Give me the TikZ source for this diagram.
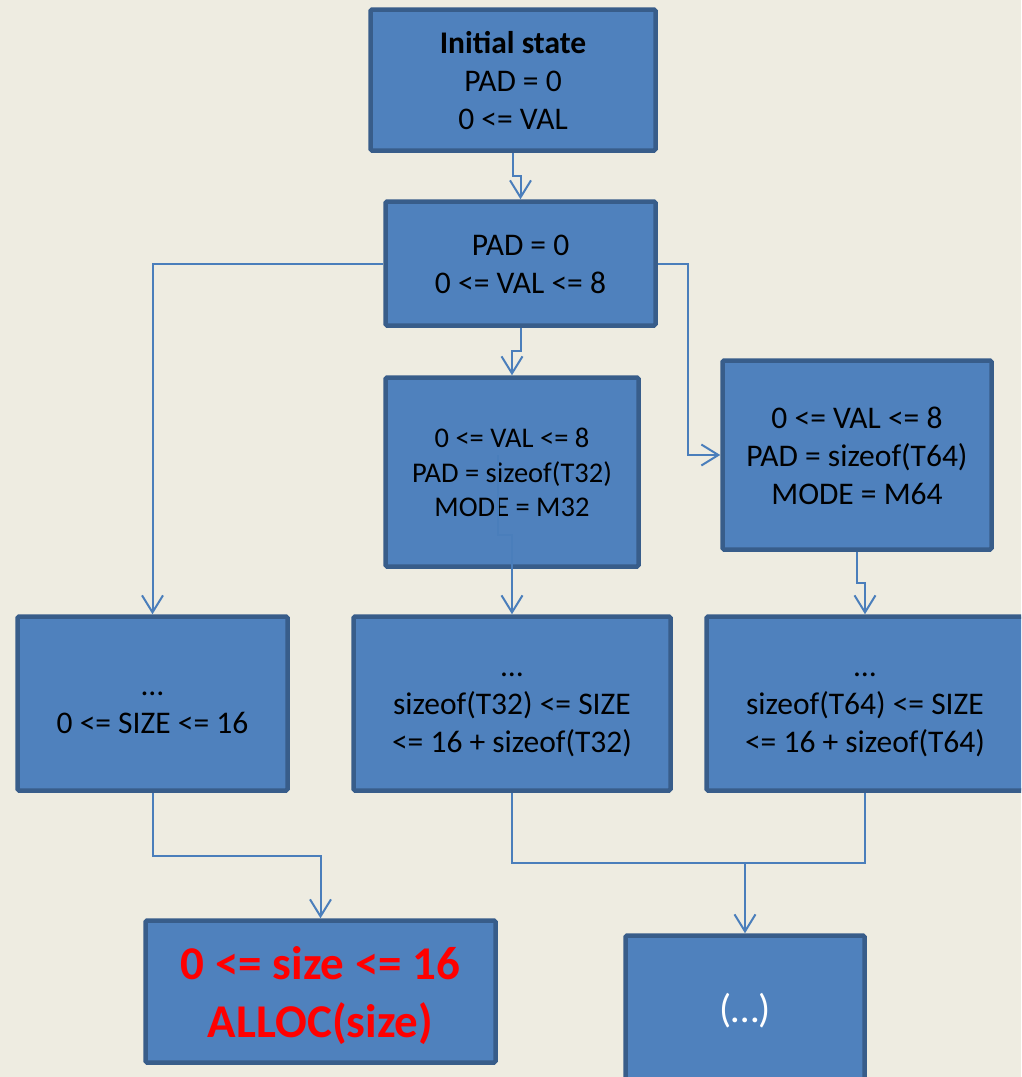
\documentclass[tikz,border=0pt]{standalone}
\usepackage{fontspec}
\setmainfont{Carlito}
\usetikzlibrary{arrows.meta}
\definecolor{bg}{HTML}{EEECE1}
\definecolor{boxfill}{HTML}{4F81BD}
\definecolor{boxline}{HTML}{385D8A}
\definecolor{conncol}{HTML}{4A7EBB}
\definecolor{redtxt}{HTML}{FF0000}
\newcommand\lnstrut{\rule[-0.2\baselineskip]{0pt}{\baselineskip}}
\begin{document}
\begin{tikzpicture}[x=1pt,y=-1pt,
  box/.style={draw=boxline, fill=boxfill, line width=4.5pt, rounded corners=1.5pt,
    inner sep=0pt, align=center, font=\fontsize{31.5}{38}\selectfont},
  conn/.style={draw=conncol, line width=2pt},
  arr/.style={conn, -{Straight Barb[length=17pt,width=21pt]}}]
\useasboundingbox (0,0) rectangle (1021,1077);
\fill[bg] (0,0) rectangle (1021,1077);
\clip (0,0) rectangle (1021,1077);

\node[box, minimum width=285pt, minimum height=141pt] (B1) at (513,80)
  {\lnstrut\textbf{Initial state}\\\lnstrut PAD = 0\\\lnstrut 0 <= VAL};
\node[box, minimum width=270pt, minimum height=124pt] (B2) at (520.5,263.5)
  {\lnstrut PAD = 0\\\lnstrut 0 <= VAL <= 8};
\node[box, minimum width=253pt, minimum height=189pt,
  font=\fontsize{28.5}{34.5}\selectfont] (B3) at (512,472)
  {\lnstrut 0 <= VAL <= 8\\\lnstrut PAD = sizeof(T32)\\\lnstrut MODE = M32};
\node[box, minimum width=269pt, minimum height=189pt] (B4) at (857,455)
  {\lnstrut 0 <= VAL <= 8\\\lnstrut PAD = sizeof(T64)\\\lnstrut MODE = M64};
\node[box, minimum width=270pt, minimum height=174pt] (B5) at (152.5,703.5)
  {\lnstrut …\\\lnstrut 0 <= SIZE <= 16};
\node[box, minimum width=317pt, minimum height=174pt] (B6) at (512,703.5)
  {\lnstrut …\\\lnstrut sizeof(T32) <= SIZE\\\lnstrut <= 16 + sizeof(T32)};
\node[box, minimum width=317pt, minimum height=174pt] (B7) at (865,703.5)
  {\lnstrut …\\\lnstrut sizeof(T64) <= SIZE\\\lnstrut <= 16 + sizeof(T64)};
\node[box, minimum width=350pt, minimum height=142pt,
  font=\fontsize{47}{58}\selectfont\bfseries, text=redtxt] (B8) at (320.5,991.5)
  {\lnstrut 0 <= size <= 16\\\lnstrut ALLOC(size)};
\node[box, minimum width=239pt, minimum height=151pt,
  font=\fontsize{40}{48}\selectfont, text=white] (B9) at (745,1011)
  {(…)};

% connectors
\draw[arr] (B1.south) -- ++(0,23) -| (B2.north);
\draw[arr] (B2.south) -- ++(0,23) -| (B3.north);
\draw[arr] (B2.west) -| (B5.north);
\draw[arr] (B2.east) -- ++(30,0) |- (B4.west);
\coordinate (B3in) at (498,455);
\draw[arr] (B3in) -- ++(0,80) -| (B6.north);
\draw[arr] (B4.south) -- ++(0,31) -| (B7.north);
\draw[arr] (B5.south) -- ++(0,63) -| (B8.north);
\draw[conn] (B6.south) -- ++(0,70) -| (B7.south);
\coordinate (J) at (745,863);
\draw[arr] (J) -- (B9.north);
\end{tikzpicture}
\end{document}
